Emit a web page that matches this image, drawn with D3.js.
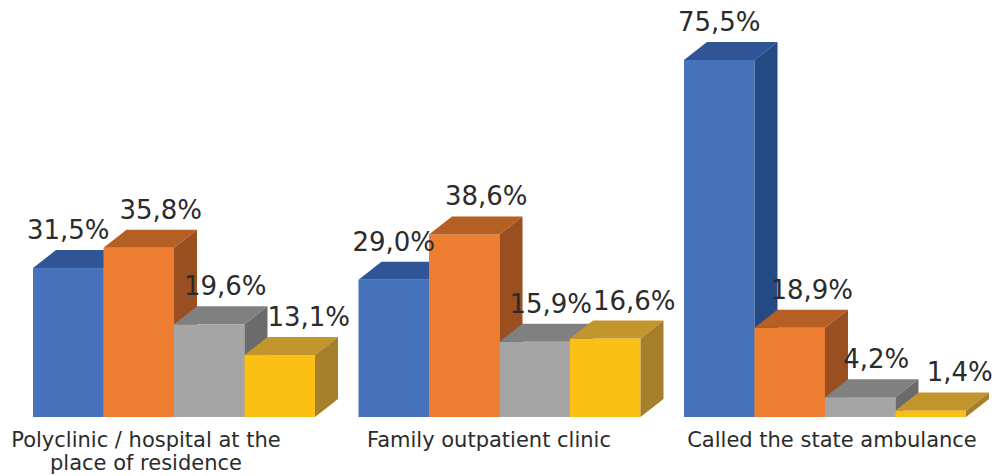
<!DOCTYPE html>
<html>
<head>
<meta charset="utf-8">
<script src="https://cdn.jsdelivr.net/npm/d3@7"></script>
<style>
  html, body { margin: 0; padding: 0; background: #fff; }
  svg text { font-family: "DejaVu Sans", sans-serif; fill: #2b2b2b; }
</style>
</head>
<body>
<svg id="chart"></svg>
<script>
const WIDTH = 992;
const HEIGHT = 476;
const DX = 23; // depth of the 3d bars
const DY = 18;

const categories = [
  ["Polyclinic / hospital at the", "place of residence"],
  ["Family outpatient clinic"],
  ["Called the state ambulance"]
];
const series = ["s1", "s2", "s3", "s4"];
const values = [
  [31.5, 35.8, 19.6, 13.1],
  [29.0, 38.6, 15.9, 16.6],
  [75.5, 18.9, 4.2, 1.4]
];

// front, top, side shades per series
const colors = [
  ["#4572BA", "#2F5597", "#234A82"],
  ["#ED7D31", "#B65F25", "#9A4F20"],
  ["#A5A5A5", "#808080", "#6B6B6B"],
  ["#FCC015", "#C3952D", "#A67F2B"]
];
const labelShift = [0, 22, 16, 29];

const svg = d3.select("#chart")
  .attr("width", WIDTH)
  .attr("height", HEIGHT);

const x0 = d3.scaleBand()
  .domain(d3.range(categories.length))
  .range([33, 966])
  .paddingInner(0.1336)
  .paddingOuter(0);
const x1 = d3.scaleBand()
  .domain(series)
  .range([0, x0.bandwidth()]);
const y = d3.scaleLinear().domain([0, 75.5]).range([417, 60]);

const fmt = v => d3.format(".1f")(v).replace(".", ",") + "%";

values.forEach((row, g) => {
  const grp = svg.append("g");
  row.forEach((v, i) => {
    const xl = x0(g) + x1(series[i]);
    const xr = xl + x1.bandwidth();
    const yt = y(v);
    const yb = y(0);
    const c = colors[i];
    // front
    grp.append("rect")
      .attr("x", xl).attr("y", yt)
      .attr("width", x1.bandwidth()).attr("height", yb - yt)
      .attr("fill", c[0]);
    // top
    grp.append("path")
      .attr("d", `M${xl},${yt}L${xl + DX},${yt - DY}L${xr + DX},${yt - DY}L${xr},${yt}Z`)
      .attr("fill", c[1]);
    // side
    grp.append("path")
      .attr("d", `M${xr},${yt}L${xr + DX},${yt - DY}L${xr + DX},${yb - DY}L${xr},${yb}Z`)
      .attr("fill", c[2]);
  });
  row.forEach((v, i) => {
    const cx = x0(g) + x1(series[i]) + x1.bandwidth() / 2 + labelShift[i];
    svg.append("text")
      .attr("x", cx)
      .attr("y", y(v) - DY - 11)
      .attr("text-anchor", "middle")
      .attr("font-size", 26)
      .text(fmt(v));
  });
});

const xl = d3.scalePoint()
  .domain(d3.range(categories.length))
  .range([146, 832]);

categories.forEach((lines, g) => {
  const t = svg.append("text")
    .attr("x", xl(g))
    .attr("y", 447)
    .attr("text-anchor", "middle")
    .attr("font-size", 21);
  lines.forEach((ln, k) => {
    t.append("tspan")
      .attr("x", xl(g))
      .attr("dy", k === 0 ? 0 : 23)
      .text(ln);
  });
});
</script>
</body>
</html>
